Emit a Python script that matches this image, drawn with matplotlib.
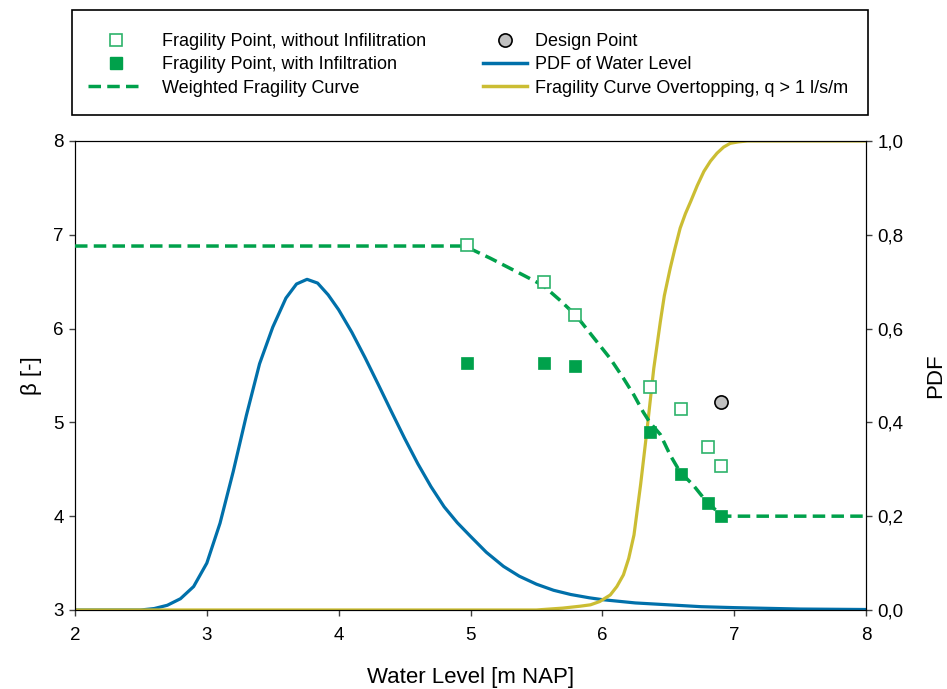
import matplotlib
matplotlib.use("Agg")
import matplotlib.pyplot as plt
from matplotlib.lines import Line2D
from matplotlib.patches import Rectangle
from matplotlib.ticker import FuncFormatter

plt.rcParams['font.family'] = ['Liberation Sans', 'DejaVu Sans']

# fragility points (water level [m NAP], beta [-])
wl_points = [4.97, 5.56, 5.79, 6.36, 6.60, 6.80, 6.90]
beta_no_infil = [6.89, 6.50, 6.14, 5.38, 5.14, 4.74, 4.53]
beta_infil = [5.63, 5.63, 5.60, 4.90, 4.45, 4.14, 4.00]

# design point
design_wl = [6.90]
design_beta = [5.22]

# weighted fragility curve
wfc_wl = [2.0, 4.92, 4.97, 5.15, 5.40, 5.55, 5.68, 5.80, 5.93, 6.06, 6.16, 6.24,
          6.31, 6.36, 6.44, 6.515, 6.59, 6.69, 6.77, 6.87, 6.90, 8.0]
wfc_beta = [6.88, 6.88, 6.87, 6.75, 6.57, 6.46, 6.30, 6.14, 5.91, 5.68, 5.47, 5.29,
            5.11, 5.00, 4.87, 4.65, 4.47, 4.33, 4.19, 4.05, 4.00, 4.00]

# PDF of water level
pdf_wl = [2.0, 2.5, 2.6, 2.7, 2.8, 2.9, 3.0, 3.1, 3.2, 3.3, 3.4, 3.5, 3.6, 3.68,
          3.76, 3.84, 3.92, 4.0, 4.1, 4.2, 4.3, 4.4, 4.5, 4.6, 4.7, 4.8, 4.9, 5.0,
          5.12, 5.25, 5.37, 5.5, 5.63, 5.76, 5.9, 6.0, 6.25, 6.5, 6.75, 7.0, 7.5, 8.0]
pdf_val = [0.0, 0.0, 0.003, 0.010, 0.024, 0.050, 0.100, 0.185, 0.295, 0.415, 0.525,
           0.603, 0.665, 0.695, 0.705, 0.697, 0.672, 0.640, 0.592, 0.538, 0.481,
           0.423, 0.366, 0.312, 0.263, 0.220, 0.186, 0.157, 0.123, 0.093, 0.072,
           0.055, 0.042, 0.033, 0.026, 0.022, 0.015, 0.011, 0.007, 0.005, 0.002, 0.001]

# fragility curve overtopping
ot_wl = [2.0, 5.5, 5.6, 5.7, 5.83, 5.91, 5.98, 6.06, 6.11, 6.16, 6.2, 6.24, 6.29,
         6.34, 6.39, 6.44, 6.47, 6.515, 6.55, 6.59, 6.63, 6.67, 6.72, 6.77, 6.82,
         6.87, 6.92, 6.97, 7.03, 7.10, 8.0]
ot_val = [0.0, 0.0, 0.002, 0.004, 0.008, 0.011, 0.018, 0.032, 0.050, 0.075, 0.110,
          0.160, 0.267, 0.387, 0.515, 0.615, 0.670, 0.729, 0.770, 0.814, 0.845,
          0.871, 0.905, 0.935, 0.957, 0.974, 0.987, 0.995, 0.998, 1.0, 1.0]

green = '#00A14B'
green_open = '#2DB36B'
blue = '#0070AA'
yellow = '#CBBD33'

fig = plt.figure(figsize=(9.47, 6.89), dpi=100)
ax = fig.add_axes([0.0792, 0.1147, 0.8353, 0.6807])
ax2 = ax.twinx()

ax.plot(wfc_wl, wfc_beta, color=green, lw=2.5, dashes=(3.6, 1.8), zorder=3)
ax.plot(wl_points, beta_no_infil, ls='none', marker='s', ms=8.5, mfc='white',
        mec=green_open, mew=1.2, zorder=4)
ax.plot(wl_points, beta_infil, ls='none', marker='s', ms=9, mfc=green,
        mec=green, mew=0.5, zorder=4)
ax.plot(design_wl, design_beta, ls='none', marker='o', ms=9.5, mfc='#C0C0C0',
        mec='black', mew=1.2, zorder=4)

ax2.plot(pdf_wl, pdf_val, color=blue, lw=2.3, solid_joinstyle='round')
ax2.plot(ot_wl, ot_val, color=yellow, lw=2.3, solid_joinstyle='round')

ax.set_zorder(ax2.get_zorder() + 1)
ax.patch.set_visible(False)

ax.set_xlim(2, 8)
ax.set_ylim(3, 8)
ax2.set_ylim(0, 1)
ax.set_xticks([2, 3, 4, 5, 6, 7, 8])
ax.set_yticks([3, 4, 5, 6, 7, 8])
ax2.set_yticks([0, 0.2, 0.4, 0.6, 0.8, 1.0])
ax2.yaxis.set_major_formatter(FuncFormatter(lambda v, p: ('%.1f' % v).replace('.', ',')))

for a in (ax, ax2):
    a.tick_params(direction='out', length=4.5, width=1, labelsize=13.5, color='#404040')
ax.tick_params(axis='x', pad=8)

ax.set_xlabel('Water Level [m NAP]', fontsize=16, labelpad=16)
ax.set_ylabel('β [-]', fontsize=16, labelpad=8)
ax2.set_ylabel('PDF', fontsize=16, labelpad=16)

# legend box
fig.patches.append(Rectangle((72 / 947, 1 - 115 / 689), (868 - 72) / 947, (115 - 10) / 689,
                             transform=fig.transFigure, fill=False, ec='black', lw=1.2))

h1 = [Line2D([], [], ls='none', marker='s', ms=8.5, mfc='white', mec=green_open, mew=1.2),
      Line2D([], [], ls='none', marker='s', ms=9, mfc=green, mec=green),
      Line2D([], [], color=green, lw=2.5, dashes=(3.6, 1.8))]
l1 = ['Fragility Point, without Infilitration', 'Fragility Point, with Infiltration',
      'Weighted Fragility Curve']
h2 = [Line2D([], [], ls='none', marker='o', ms=9.5, mfc='#C0C0C0', mec='black', mew=1.2),
      Line2D([], [], color=blue, lw=2.5),
      Line2D([], [], color=yellow, lw=2.5)]
l2 = ['Design Point', 'PDF of Water Level', 'Fragility Curve Overtopping, q > 1 l/s/m']

leg1 = fig.legend(h1, l1, loc='upper left', bbox_to_anchor=(88 / 947, 1 - 33 / 689),
                  frameon=False, fontsize=13, handlelength=3.05, handletextpad=1.05,
                  labelspacing=0.35, borderpad=0, borderaxespad=0)
leg2 = fig.legend(h2, l2, loc='upper left', bbox_to_anchor=(483 / 947, 1 - 33 / 689),
                  frameon=False, fontsize=13, handlelength=2.45, handletextpad=0.45,
                  labelspacing=0.35, borderpad=0, borderaxespad=0)

fig.savefig('out.png', dpi=100)
